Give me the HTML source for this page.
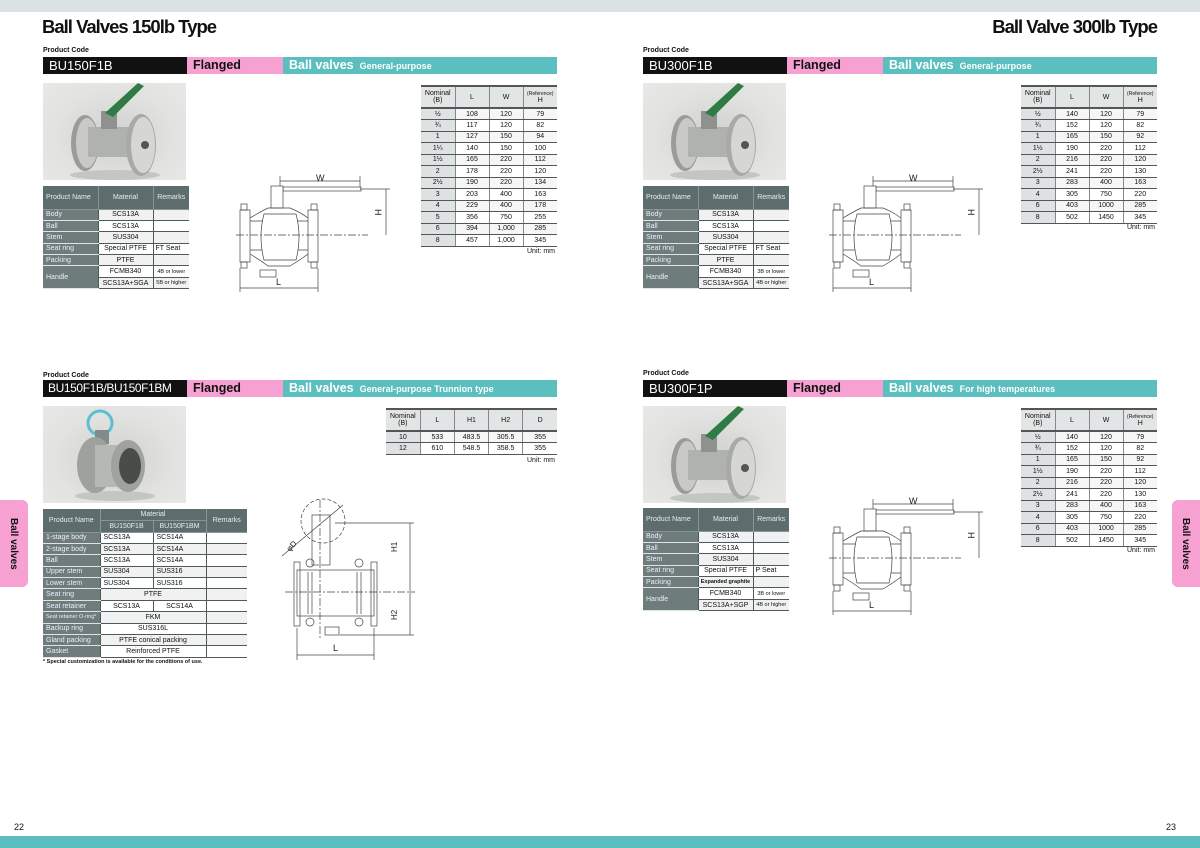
<!DOCTYPE html>
<html><head><meta charset="utf-8"><style>
*{margin:0;padding:0;box-sizing:border-box}
body{width:1200px;height:848px;position:relative;background:#fff;font-family:"Liberation Sans",sans-serif;overflow:hidden;color:#111}
.a{position:absolute}
.title{font-size:18.5px;letter-spacing:-1px;top:16px;font-weight:bold}
.pc{font-size:7px;font-weight:bold}
.bar{position:absolute;height:17px;display:flex}
.bar .k{background:#111;color:#fff;font-size:13px;width:144px;padding-left:6px;line-height:17px;white-space:nowrap;overflow:hidden}
.bar .p{background:#f7a1d3;width:96px;font-size:12.5px;font-weight:bold;padding-left:6px;line-height:17px}
.bar .c{background:#5bbfbf;color:#fff;flex:1;font-size:12.5px;font-weight:bold;padding-left:6px;line-height:17px}
.bar .c small{font-size:9px}
.photo{position:absolute;width:143px;height:97px;background:radial-gradient(ellipse at 50% 55%,#cfd1cf 0%,#e2e3e1 60%,#e8e9e7 100%)}
table{position:absolute;border-collapse:collapse;font-size:7px;table-layout:fixed}
.m td{border-bottom:1px solid #4d5a5a;text-align:center;height:11.4px;padding:0;background:#fff;border-left:1px solid #4d5a5a}
.m td.n{background:#6e7c7c;color:#eef;text-align:left;padding-left:3px;border-left:none;border-bottom:1px solid #dfe3e3}
.m th{background:#5d6d6d;color:#e8eded;font-weight:normal;border-left:1px solid #8a9696;border-bottom:1px solid #8a9696}
.m tr:nth-child(even) td:not(.n){background:#f1f1f1}
.d{border-top:2px solid #555}
.d td,.d th{text-align:center;border-bottom:1px solid #555;border-left:1px solid #888;height:11.5px;padding:0;font-weight:normal}
.d th{background:#e2e5e5;font-size:7px;border-bottom:2px solid #555}
.d td:first-child,.d th:first-child{border-left:none}
.d td:first-child{background:#dfe2e2}
.d tr:nth-child(even) td:not(:first-child){background:#f6f6f6}
.u{font-size:7px}
.tab{position:absolute;width:28px;height:87px;background:#f7a1d3;}
.tab span{position:absolute;left:8px;top:18px;writing-mode:vertical-rl;font-size:10px;font-weight:bold}
</style></head><body>
<div class="a" style="left:0;top:0;width:1200px;height:12px;background:#dde2e2"></div>
<div class="a" style="left:0;top:836px;width:1200px;height:12px;background:#5bbfbf"></div>
<div class="a" style="left:14px;top:822px;font-size:9px">22</div>
<div class="a" style="left:1166px;top:822px;font-size:9px">23</div>

<div class="a title" style="left:42px">Ball Valves 150lb Type</div>
<div class="a title" style="right:43px">Ball Valve 300lb Type</div>

<!-- Section 1 -->
<div class="a pc" style="left:43px;top:47px">Product Code</div>
<div class="bar" style="left:43px;top:57px;width:514px"><div class="k">BU150F1B</div><div class="p">Flanged</div><div class="c">Ball valves <small>&nbsp;General-purpose</small></div></div>
<div class="photo" style="left:43px;top:83px"></div>
<table class="m" style="left:43px;top:186px;width:146px"><col style="width:55px"><col style="width:55px"><col style="width:36px">
<tr><th style="height:23px;text-align:left;padding-left:3px;border-left:none">Product Name</th><th>Material</th><th>Remarks</th></tr>
<tr><td class="n">Body</td><td>SCS13A</td><td></td></tr>
<tr><td class="n">Ball</td><td>SCS13A</td><td></td></tr>
<tr><td class="n">Stem</td><td>SUS304</td><td></td></tr>
<tr><td class="n">Seat ring</td><td>Special PTFE</td><td style="text-align:left;padding-left:2px">FT Seat</td></tr>
<tr><td class="n">Packing</td><td>PTFE</td><td></td></tr>
<tr><td class="n" rowspan="2" style="background:#6e7c7c">Handle</td><td>FCMB340</td><td style="font-size:5.5px">4B or lower</td></tr>
<tr><td>SCS13A+SGA</td><td style="font-size:5.5px">5B or higher</td></tr>
</table>
<table class="d" style="left:421px;top:85px;width:136px">
<tr><th style="height:22px">Nominal<br>(B)</th><th>L</th><th>W</th><th><span style="font-size:5px">(Reference)</span><br>H</th></tr>
<tr><td>½</td><td>108</td><td>120</td><td>79</td></tr>
<tr><td>¾</td><td>117</td><td>120</td><td>82</td></tr>
<tr><td>1</td><td>127</td><td>150</td><td>94</td></tr>
<tr><td>1¼</td><td>140</td><td>150</td><td>100</td></tr>
<tr><td>1½</td><td>165</td><td>220</td><td>112</td></tr>
<tr><td>2</td><td>178</td><td>220</td><td>120</td></tr>
<tr><td>2½</td><td>190</td><td>220</td><td>134</td></tr>
<tr><td>3</td><td>203</td><td>400</td><td>163</td></tr>
<tr><td>4</td><td>229</td><td>400</td><td>178</td></tr>
<tr><td>5</td><td>356</td><td>750</td><td>255</td></tr>
<tr><td>6</td><td>394</td><td>1,000</td><td>285</td></tr>
<tr><td>8</td><td>457</td><td>1,000</td><td>345</td></tr>
</table>
<div class="a u" style="left:527px;top:248px">Unit: mm</div>

<!-- Section 2 -->
<div class="a pc" style="left:43px;top:372px">Product Code</div>
<div class="bar" style="left:43px;top:380px;width:514px"><div class="k" style="font-size:12px;letter-spacing:-0.4px;padding-left:5px">BU150F1B/BU150F1BM</div><div class="p">Flanged</div><div class="c">Ball valves <small>&nbsp;General-purpose Trunnion type</small></div></div>
<div class="photo" style="left:43px;top:406px"></div>
<table class="m" style="left:43px;top:509px;width:204px"><col style="width:57px"><col style="width:53px"><col style="width:53px"><col style="width:41px">
<tr><th rowspan="2" style="border-left:none">Product Name</th><th colspan="2" style="height:11px">Material</th><th rowspan="2">Remarks</th></tr>
<tr><th style="height:12px">BU150F1B</th><th>BU150F1BM</th></tr>
<tr><td class="n">1-stage body</td><td style="text-align:left;padding-left:3px">SCS13A</td><td style="text-align:left;padding-left:3px">SCS14A</td><td></td></tr>
<tr><td class="n">2-stage body</td><td style="text-align:left;padding-left:3px">SCS13A</td><td style="text-align:left;padding-left:3px">SCS14A</td><td></td></tr>
<tr><td class="n">Ball</td><td style="text-align:left;padding-left:3px">SCS13A</td><td style="text-align:left;padding-left:3px">SCS14A</td><td></td></tr>
<tr><td class="n">Upper stem</td><td style="text-align:left;padding-left:3px">SUS304</td><td style="text-align:left;padding-left:3px">SUS316</td><td></td></tr>
<tr><td class="n">Lower stem</td><td style="text-align:left;padding-left:3px">SUS304</td><td style="text-align:left;padding-left:3px">SUS316</td><td></td></tr>
<tr><td class="n">Seat ring</td><td colspan="2">PTFE</td><td></td></tr>
<tr><td class="n">Seat retainer</td><td>SCS13A</td><td>SCS14A</td><td></td></tr>
<tr><td class="n" style="font-size:5.5px">Seat retainer O-ring*</td><td colspan="2">FKM</td><td></td></tr>
<tr><td class="n">Backup ring</td><td colspan="2">SUS316L</td><td></td></tr>
<tr><td class="n">Gland packing</td><td colspan="2">PTFE conical packing</td><td></td></tr>
<tr><td class="n">Gasket</td><td colspan="2">Reinforced PTFE</td><td></td></tr>
</table>
<div class="a" style="left:43px;top:659px;font-size:5.5px;font-weight:bold">* Special customization is available for the conditions of use.</div>
<table class="d" style="left:386px;top:408px;width:171px">
<tr><th style="height:22px">Nominal<br>(B)</th><th>L</th><th>H1</th><th>H2</th><th>D</th></tr>
<tr><td>10</td><td>533</td><td>483.5</td><td>305.5</td><td>355</td></tr>
<tr><td>12</td><td>610</td><td>548.5</td><td>358.5</td><td>355</td></tr>
</table>
<div class="a u" style="left:527px;top:457px">Unit: mm</div>
<div class="tab" style="left:0;top:500px;border-radius:0 6px 6px 0"><span>Ball valves</span></div>

<!-- Section 3 -->
<div class="a pc" style="left:643px;top:47px">Product Code</div>
<div class="bar" style="left:643px;top:57px;width:514px"><div class="k">BU300F1B</div><div class="p">Flanged</div><div class="c">Ball valves <small>&nbsp;General-purpose</small></div></div>
<div class="photo" style="left:643px;top:83px"></div>
<table class="m" style="left:643px;top:186px;width:146px"><col style="width:55px"><col style="width:55px"><col style="width:36px">
<tr><th style="height:23px;text-align:left;padding-left:3px;border-left:none">Product Name</th><th>Material</th><th>Remarks</th></tr>
<tr><td class="n">Body</td><td>SCS13A</td><td></td></tr>
<tr><td class="n">Ball</td><td>SCS13A</td><td></td></tr>
<tr><td class="n">Stem</td><td>SUS304</td><td></td></tr>
<tr><td class="n">Seat ring</td><td>Special PTFE</td><td style="text-align:left;padding-left:2px">FT Seat</td></tr>
<tr><td class="n">Packing</td><td>PTFE</td><td></td></tr>
<tr><td class="n" rowspan="2" style="background:#6e7c7c">Handle</td><td>FCMB340</td><td style="font-size:5.5px">3B or lower</td></tr>
<tr><td>SCS13A+SGA</td><td style="font-size:5.5px">4B or higher</td></tr>
</table>
<table class="d" style="left:1021px;top:85px;width:136px">
<tr><th style="height:22px">Nominal<br>(B)</th><th>L</th><th>W</th><th><span style="font-size:5px">(Reference)</span><br>H</th></tr>
<tr><td>½</td><td>140</td><td>120</td><td>79</td></tr>
<tr><td>¾</td><td>152</td><td>120</td><td>82</td></tr>
<tr><td>1</td><td>165</td><td>150</td><td>92</td></tr>
<tr><td>1½</td><td>190</td><td>220</td><td>112</td></tr>
<tr><td>2</td><td>216</td><td>220</td><td>120</td></tr>
<tr><td>2½</td><td>241</td><td>220</td><td>130</td></tr>
<tr><td>3</td><td>283</td><td>400</td><td>163</td></tr>
<tr><td>4</td><td>305</td><td>750</td><td>220</td></tr>
<tr><td>6</td><td>403</td><td>1000</td><td>285</td></tr>
<tr><td>8</td><td>502</td><td>1450</td><td>345</td></tr>
</table>
<div class="a u" style="left:1127px;top:224px">Unit: mm</div>

<!-- Section 4 -->
<div class="a pc" style="left:643px;top:370px">Product Code</div>
<div class="bar" style="left:643px;top:380px;width:514px"><div class="k">BU300F1P</div><div class="p">Flanged</div><div class="c">Ball valves <small>&nbsp;For high temperatures</small></div></div>
<div class="photo" style="left:643px;top:406px"></div>
<table class="m" style="left:643px;top:508px;width:146px"><col style="width:55px"><col style="width:55px"><col style="width:36px">
<tr><th style="height:23px;text-align:left;padding-left:3px;border-left:none">Product Name</th><th>Material</th><th>Remarks</th></tr>
<tr><td class="n">Body</td><td>SCS13A</td><td></td></tr>
<tr><td class="n">Ball</td><td>SCS13A</td><td></td></tr>
<tr><td class="n">Stem</td><td>SUS304</td><td></td></tr>
<tr><td class="n">Seat ring</td><td>Special PTFE</td><td style="text-align:left;padding-left:2px">P Seat</td></tr>
<tr><td class="n">Packing</td><td style="font-size:5.5px;font-weight:bold">Expanded graphite</td><td></td></tr>
<tr><td class="n" rowspan="2" style="background:#6e7c7c">Handle</td><td>FCMB340</td><td style="font-size:5.5px">3B or lower</td></tr>
<tr><td>SCS13A+SGP</td><td style="font-size:5.5px">4B or higher</td></tr>
</table>
<table class="d" style="left:1021px;top:408px;width:136px">
<tr><th style="height:22px">Nominal<br>(B)</th><th>L</th><th>W</th><th><span style="font-size:5px">(Reference)</span><br>H</th></tr>
<tr><td>½</td><td>140</td><td>120</td><td>79</td></tr>
<tr><td>¾</td><td>152</td><td>120</td><td>82</td></tr>
<tr><td>1</td><td>165</td><td>150</td><td>92</td></tr>
<tr><td>1½</td><td>190</td><td>220</td><td>112</td></tr>
<tr><td>2</td><td>216</td><td>220</td><td>120</td></tr>
<tr><td>2½</td><td>241</td><td>220</td><td>130</td></tr>
<tr><td>3</td><td>283</td><td>400</td><td>163</td></tr>
<tr><td>4</td><td>305</td><td>750</td><td>220</td></tr>
<tr><td>6</td><td>403</td><td>1000</td><td>285</td></tr>
<tr><td>8</td><td>502</td><td>1450</td><td>345</td></tr>
</table>
<div class="a u" style="left:1127px;top:547px">Unit: mm</div>
<div class="tab" style="left:1172px;top:500px;border-radius:6px 0 0 6px"><span>Ball valves</span></div>

<svg class="a" style="left:0;top:0" width="1200" height="848" font-family="Liberation Sans" fill="none" stroke="#444" stroke-width="0.7">
<defs>
<g id="ph" stroke="none">
<ellipse cx="72" cy="92" rx="45" ry="5" fill="#c4c6c4"/>
<ellipse cx="42" cy="60" rx="14" ry="28" fill="#9a9c9a"/>
<ellipse cx="44" cy="60" rx="11" ry="25" fill="#c9cac8"/>
<rect x="45" y="44" width="45" height="30" fill="#b0b2b0"/>
<rect x="58" y="28" width="16" height="18" fill="#8f918f"/>
<path d="M62 30 L95 0 L101 3 L70 34 Z" fill="#2f7a45"/>
<ellipse cx="98" cy="62" rx="15" ry="31" fill="#a8aaa8"/>
<ellipse cx="100" cy="62" rx="12" ry="28" fill="#d6d7d5"/>
<circle cx="102" cy="62" r="4" fill="#555"/>
</g>
<g id="v">
<line x1="42" y1="9" x2="122" y2="9"/><line x1="42" y1="4" x2="42" y2="22"/><line x1="122" y1="4" x2="122" y2="17"/>
<text x="78" y="9" fill="#222" stroke="none" font-size="9">W</text>
<rect x="45" y="15" width="78" height="4" fill="#fff"/>
<rect x="33" y="14" width="12" height="22" fill="#fff"/>
<line x1="122" y1="17" x2="152" y2="17"/>
<line x1="148" y1="17" x2="148" y2="63"/>
<text x="0" y="0" fill="#222" stroke="none" font-size="9" transform="translate(137,37) rotate(90)">H</text>
<rect x="2" y="38" width="10" height="52"/><rect x="70" y="38" width="10" height="52"/>
<rect x="3" y="32" width="6" height="6"/><rect x="73" y="32" width="6" height="6"/>
<rect x="3" y="90" width="6" height="6"/><rect x="73" y="90" width="6" height="6"/>
<line x1="12" y1="49" x2="70" y2="49"/><line x1="12" y1="78" x2="70" y2="78"/>
<path d="M26 42 Q20 64 26 88 L58 88 Q64 64 58 42 Z" fill="#fff"/>
<path d="M12 46 Q22 40 30 36 L52 36 Q62 40 70 46"/>
<path d="M12 82 Q22 88 30 94 L52 94 Q62 88 70 82"/>
<line x1="-2" y1="63" x2="130" y2="63" stroke-dasharray="8 2 2 2"/>
<rect x="22" y="98" width="16" height="7"/>
<line x1="2" y1="96" x2="2" y2="120"/><line x1="80" y1="96" x2="80" y2="120"/>
<line x1="2" y1="116" x2="80" y2="116"/>
<text x="38" y="113" fill="#222" stroke="none" font-size="9">L</text>
</g>
</defs>
<use href="#ph" x="43" y="83"/>
<use href="#ph" x="643" y="83"/>
<use href="#ph" x="643" y="406"/>
<g stroke="none">
<ellipse cx="115" cy="496" rx="40" ry="5" fill="#c4c6c4"/>
<circle cx="100" cy="423" r="12" fill="none" stroke="#5bbfd0" stroke-width="3"/>
<rect x="95" y="430" width="14" height="14" fill="#7f8c8c"/>
<ellipse cx="95" cy="465" rx="18" ry="28" fill="#9fa19f"/>
<rect x="95" y="445" width="30" height="42" fill="#b6b8b6"/>
<ellipse cx="128" cy="466" rx="17" ry="26" fill="#a0a2a0"/>
<ellipse cx="130" cy="466" rx="11" ry="18" fill="#4a4c4a"/>
</g>
<use href="#v" x="238" y="172"/>
<use href="#v" x="831" y="172"/>
<use href="#v" x="831" y="495"/>
<!-- trunnion -->
<circle cx="323" cy="521" r="22" stroke-dasharray="4 2"/>
<line x1="282" y1="556" x2="343" y2="505"/>
<text x="0" y="0" fill="#222" stroke="none" font-size="8" transform="translate(290,552) rotate(-50)">φD</text>
<rect x="312" y="515" width="18" height="50"/>
<rect x="297" y="570" width="77" height="46" fill="#fff"/>
<rect x="294" y="562" width="6" height="64"/><rect x="371" y="562" width="6" height="64"/>
<line x1="308" y1="572" x2="308" y2="614"/><line x1="312" y1="572" x2="312" y2="614"/>
<line x1="357" y1="572" x2="357" y2="614"/><line x1="361" y1="572" x2="361" y2="614"/>
<circle cx="310" cy="563" r="4"/><circle cx="359" cy="563" r="4"/><circle cx="310" cy="622" r="4"/><circle cx="359" cy="622" r="4"/>
<rect x="325" y="627" width="14" height="8"/>
<line x1="285" y1="592" x2="415" y2="592" stroke-dasharray="8 2 2 2"/>
<line x1="320" y1="500" x2="320" y2="640" stroke-dasharray="8 2 2 2"/>
<line x1="335" y1="523" x2="414" y2="523"/><line x1="340" y1="635" x2="414" y2="635"/>
<line x1="410" y1="523" x2="410" y2="635"/>
<text x="0" y="0" fill="#222" stroke="none" font-size="8" transform="translate(397,552) rotate(-90)">H1</text>
<text x="0" y="0" fill="#222" stroke="none" font-size="8" transform="translate(397,620) rotate(-90)">H2</text>
<line x1="297" y1="628" x2="297" y2="660"/><line x1="374" y1="628" x2="374" y2="660"/>
<line x1="297" y1="655" x2="374" y2="655"/>
<text x="333" y="651" fill="#222" stroke="none" font-size="9">L</text>
</svg>
</body></html>
